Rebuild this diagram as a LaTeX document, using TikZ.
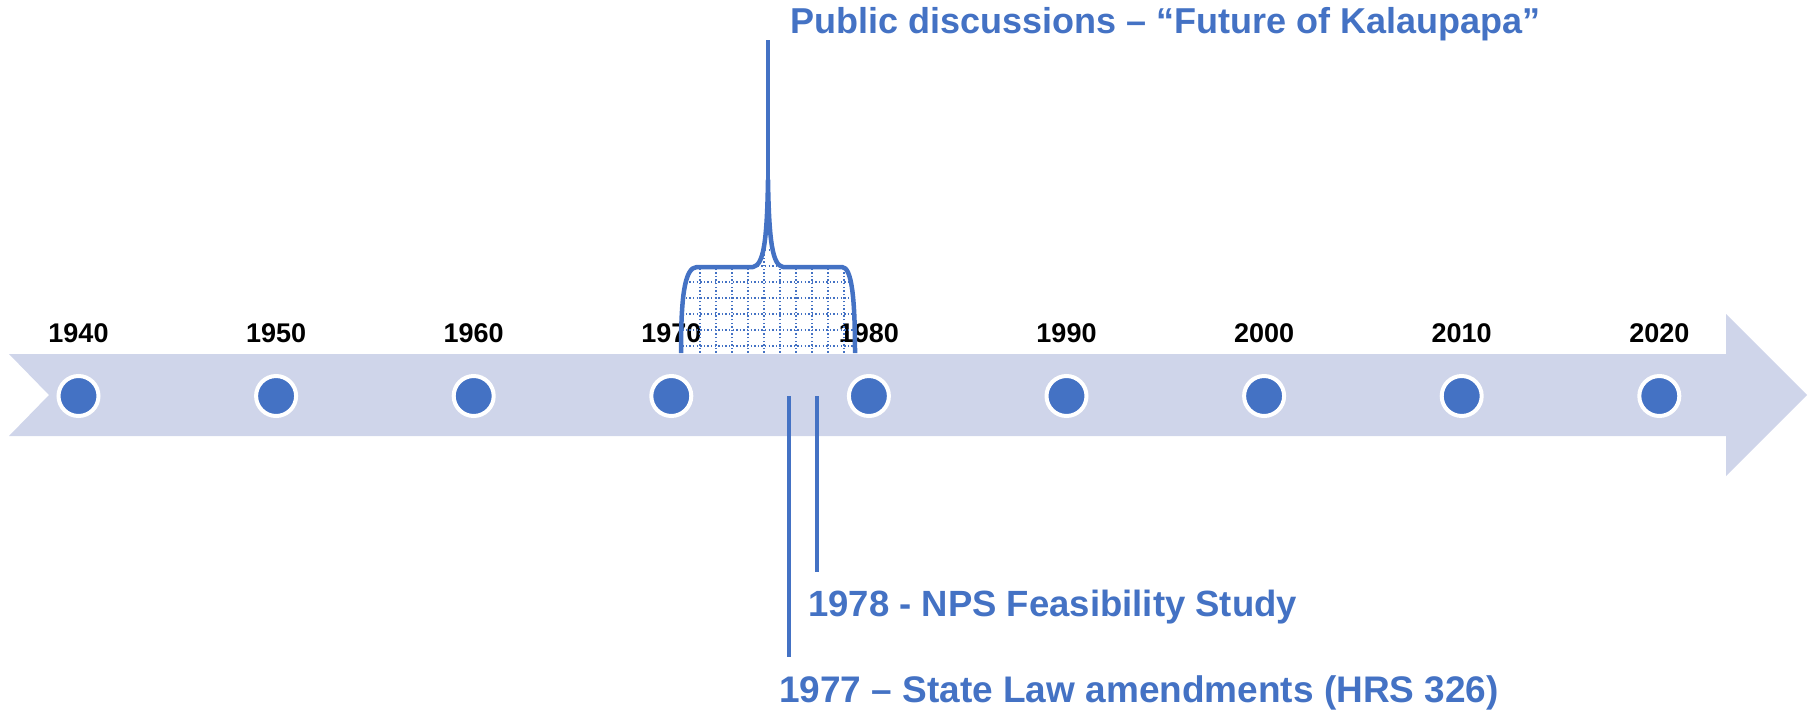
\documentclass[tikz,border=0pt]{standalone}
\usepackage{fontspec}
\setmainfont{Liberation Sans}
\definecolor{tlblue}{HTML}{4472C4}
\definecolor{band}{HTML}{CFD5EA}
\tikzset{
  dotcirc/.style={circle, fill=tlblue, draw=white, line width=4pt, minimum size=40pt, inner sep=0pt},
  yearlbl/.style={anchor=base, inner sep=0pt, font=\fontsize{27}{30}\selectfont\bfseries, text=black},
  evtext/.style={anchor=base west, inner sep=0pt, text=tlblue},
  evline/.style={draw=tlblue, line width=4pt},
  bracestyle/.style={draw=tlblue, line width=4.5pt, line join=round},
  gridline/.style={draw=tlblue, line width=1.4pt, dash pattern=on 1.4pt off 2.2pt}
}
\begin{document}
\begin{tikzpicture}[x=1pt,y=-1pt]
\useasboundingbox (0,0) rectangle (1816,710);
% band arrow
\fill[band] (9,354) -- (1726,354) -- (1726,314) -- (1807,395) -- (1726,476) -- (1726,436) -- (9,436) -- (49,395) -- cycle;
% circles and years
\foreach \yr [count=\i from 0] in {1940,1950,1960,1970,1980,1990,2000,2010,2020} {
  \node[dotcirc] (c\yr) at ({78.5+197.6*\i},396) {};
  \node[yearlbl] (y\yr) at ({78.5+197.6*\i},342) {\yr};
}
% brace grid
\begin{scope}
\clip (681,353) .. controls (681,300) and (684,267) .. (697,267) -- (753,267)
  .. controls (763,265) and (767,245) .. (768,180)
  .. controls (769,245) and (773,265) .. (783,267) -- (842,267)
  .. controls (852,267) and (855,300) .. (855,353) -- cycle;
\foreach \x in {700,716,...,844} \draw[gridline] (\x,360) -- (\x,170);
\foreach \y in {346,330,...,186} \draw[gridline] (675,\y) -- (860,\y);
\end{scope}
% brace
\draw[bracestyle] (681,353) .. controls (681,300) and (684,267) .. (697,267) -- (753,267)
  .. controls (763,265) and (767,245) .. (768,180)
  .. controls (769,245) and (773,265) .. (783,267) -- (842,267)
  .. controls (852,267) and (855,300) .. (855,353);
\coordinate (bracetip) at (768,182);
\coordinate (toptop) at (768,40);
\draw[evline] (bracetip) -- (toptop);
\node[evtext, font=\fontsize{36}{40}\selectfont\bfseries] (pub) at (790,33) {Public discussions – “Future of Kalaupapa”};
% event lines
\coordinate (a77) at (789,396);
\coordinate (b77) at (789,657);
\coordinate (a78) at (817,396);
\coordinate (b78) at (817,572);
\draw[evline] (a77) -- (b77);
\draw[evline] (a78) -- (b78);
\node[evtext, font=\fontsize{36.5}{40}\selectfont\bfseries] (t78) at (808,616) {1978 - NPS Feasibility Study};
\node[evtext, font=\fontsize{37}{40}\selectfont\bfseries] (t77) at (779,702) {1977 – State Law amendments (HRS 326)};
\end{tikzpicture}
\end{document}
